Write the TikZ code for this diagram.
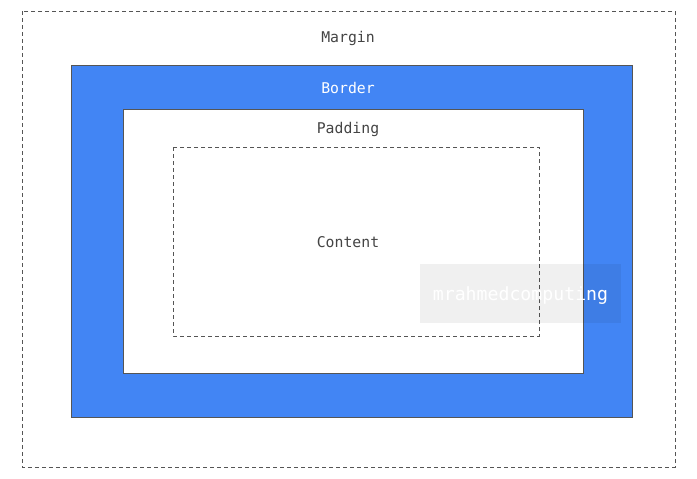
\documentclass[tikz,border=0pt]{standalone}
\usepackage{fontspec}
\setmonofont{DejaVu Sans Mono}
\definecolor{boxblue}{HTML}{4285F4}
\definecolor{edge}{HTML}{555555}
\definecolor{txt}{HTML}{444444}
\begin{document}
\begin{tikzpicture}[x=1pt,y=-1pt,
  dashbox/.style={draw=edge,line width=0.9pt,dash pattern=on 4pt off 3pt},
  solidbox/.style={draw=edge,line width=0.9pt},
  lbl/.style={font=\ttfamily\fontsize{14.8}{16}\selectfont,text=txt,inner sep=0pt},
  wm/.style={fill=black,fill opacity=0.06,minimum width=201pt,minimum height=59pt,inner sep=0pt},
  wmtext/.style={text=white,font=\ttfamily\fontsize{18.2}{20}\selectfont,inner sep=0pt}]
\useasboundingbox (0,0) rectangle (697,479);
\fill[white] (0,0) rectangle (697,479);
\draw[dashbox] (22,11) rectangle (675,467);
\filldraw[solidbox,fill=boxblue] (71,65) rectangle (632,417);
\filldraw[solidbox,fill=white] (123,109) rectangle (583,373);
\draw[dashbox] (173,147) rectangle (539,336);
\node[lbl] (margin) at (348,38.5) {Margin};
\node[lbl,text=white] (border) at (348,87.5) {Border};
\node[lbl] (padding) at (348,129) {Padding};
\node[lbl] (content) at (348,242.5) {Content};
\node[wm] (mark) at (520.5,293.5) {};
\node[wmtext] (marktext) at (520.5,296) {mrahmedcomputing};
\end{tikzpicture}
\end{document}
